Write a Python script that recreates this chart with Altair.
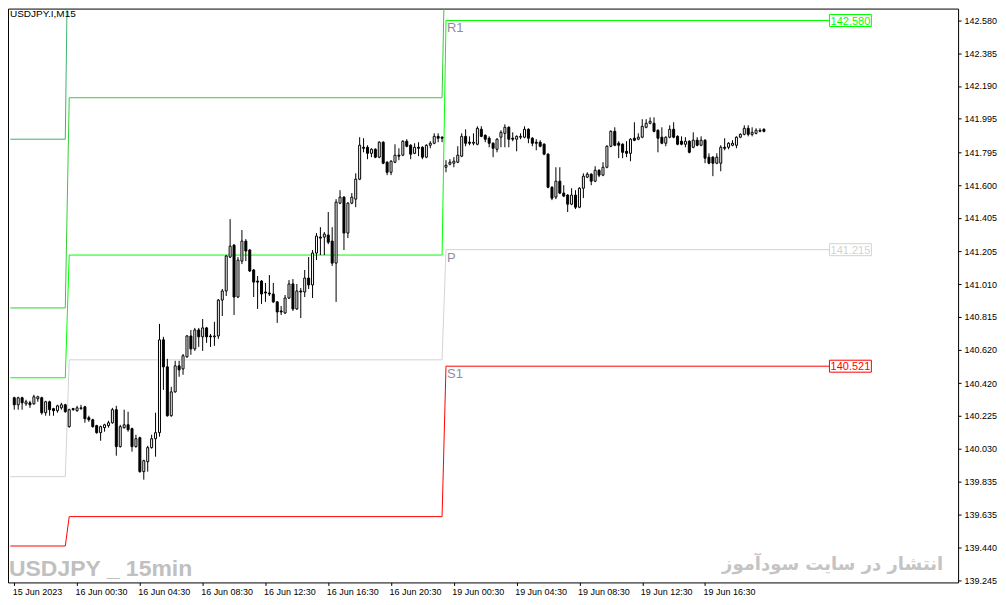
import json
import altair as alt
import pandas as pd

# ---------------- data ----------------
chart_title = "USDJPY.I,M15"
watermark_left = "USDJPY _ 15min"
watermark_right = "انتشار در سایت سودآموز"

x_tick_index = [0, 16, 32, 48, 64, 80, 96, 112, 128, 144, 160, 176]
x_tick_labels = ["15 Jun 2023", "16 Jun 00:30", "16 Jun 04:30", "16 Jun 08:30",
                 "16 Jun 12:30", "16 Jun 16:30", "16 Jun 20:30", "19 Jun 00:30",
                 "19 Jun 04:30", "19 Jun 08:30", "19 Jun 12:30", "19 Jun 16:30"]
y_tick_values = [142.580, 142.385, 142.190, 141.995, 141.795, 141.600, 141.405,
                 141.205, 141.010, 140.815, 140.620, 140.420, 140.225, 140.030,
                 139.835, 139.635, 139.440, 139.245]

opens = [140.333,140.291,140.333,140.297,140.303,140.297,140.327,140.333,140.244,140.309,
140.268,140.256,140.273,140.291,140.161,140.268,140.256,140.268,140.279,140.214,
140.202,140.167,140.125,140.155,140.167,140.184,140.262,140.042,140.155,140.172,
140.149,140.042,140.095,139.893,139.952,140.036,140.089,140.125,140.678,140.517,
140.226,140.368,140.523,140.505,140.577,140.701,140.624,140.737,140.696,140.749,
140.701,140.696,140.701,140.915,140.969,141.171,141.242,140.933,141.147,141.266,
141.213,141.094,141.028,141.028,140.963,140.957,140.951,140.904,140.850,140.838,
140.927,141.011,140.862,140.969,140.963,141.046,141.005,141.195,141.290,141.290,
141.302,141.266,141.135,141.492,141.528,141.314,141.492,141.516,141.635,141.825,
141.825,141.789,141.813,141.766,141.855,141.736,141.676,141.736,141.778,141.778,
141.861,141.837,141.789,141.825,141.825,141.766,141.837,141.849,141.890,141.885,
141.706,141.724,141.730,141.736,141.772,141.890,141.855,141.849,141.843,141.932,
141.896,141.879,141.849,141.813,141.885,141.908,141.944,141.879,141.873,141.885,
141.885,141.932,141.879,141.855,141.855,141.843,141.784,141.587,141.528,141.623,
141.552,141.540,141.486,141.540,141.468,141.581,141.647,141.665,141.623,141.688,
141.659,141.706,141.831,141.920,141.849,141.843,141.801,141.789,141.879,141.873,
141.885,141.944,141.968,141.968,141.926,141.885,141.849,141.885,141.932,141.890,
141.861,141.843,141.861,141.825,141.867,141.837,141.867,141.766,141.766,141.730,
141.730,141.825,141.825,141.837,141.837,141.885,141.902,141.938,141.902,141.908,
141.920,141.932]

highs = [140.339,140.339,140.339,140.321,140.315,140.351,140.345,140.339,140.315,140.315,
140.273,140.291,140.303,140.297,140.268,140.273,140.285,140.291,140.285,140.226,
140.208,140.172,140.167,140.178,140.196,140.273,140.285,140.172,140.262,140.250,
140.155,140.113,140.101,139.964,140.047,140.113,140.244,140.773,140.696,140.565,
140.398,140.553,140.553,140.594,140.707,140.737,140.749,140.749,140.802,140.755,
140.713,140.785,140.921,140.981,141.183,141.397,141.248,141.171,141.332,141.278,
141.219,141.100,141.058,141.034,141.017,141.064,141.017,140.909,140.880,140.945,
141.034,141.040,141.011,140.987,141.094,141.171,141.213,141.314,141.349,141.320,
141.439,141.349,141.516,141.569,141.534,141.498,141.552,141.670,141.885,141.879,
141.837,141.819,141.819,141.861,141.861,141.742,141.748,141.843,141.819,141.867,
141.873,141.843,141.849,141.855,141.831,141.843,141.861,141.908,141.908,141.890,
141.748,141.754,141.766,141.831,141.908,141.932,141.890,141.908,141.950,141.950,
141.902,141.890,141.855,141.879,141.926,141.962,141.950,141.914,141.896,141.908,
141.950,141.938,141.885,141.873,141.867,141.849,141.789,141.593,141.706,141.706,
141.599,141.546,141.581,141.569,141.587,141.670,141.676,141.670,141.712,141.694,
141.736,141.837,141.926,141.944,141.861,141.849,141.861,141.879,141.974,141.908,
141.992,141.992,142.003,142.003,141.932,141.944,141.890,141.956,141.974,141.896,
141.890,141.885,141.867,141.914,141.885,141.890,141.873,141.789,141.772,141.789,
141.837,141.879,141.855,141.867,141.890,141.908,141.956,141.956,141.944,141.938,
141.938,141.938]

lows = [140.262,140.262,140.262,140.285,140.273,140.291,140.309,140.232,140.226,140.226,
140.226,140.244,140.262,140.244,140.155,140.256,140.250,140.262,140.184,140.190,
140.155,140.119,140.077,140.131,140.155,140.178,139.988,140.036,140.149,140.131,
140.012,140.036,139.887,139.845,139.893,140.030,139.982,140.101,140.380,140.220,
140.220,140.363,140.458,140.470,140.571,140.589,140.612,140.636,140.612,140.660,
140.636,140.642,140.684,140.820,140.939,141.165,140.826,140.927,141.129,141.147,
141.082,140.933,140.862,140.892,140.904,140.939,140.898,140.779,140.826,140.832,
140.921,140.850,140.856,140.808,140.933,140.981,140.927,141.153,141.183,141.183,
141.248,141.118,140.904,141.486,141.213,141.284,141.486,141.468,141.629,141.795,
141.754,141.766,141.760,141.760,141.724,141.659,141.659,141.730,141.748,141.772,
141.825,141.754,141.784,141.772,141.754,141.760,141.819,141.843,141.855,141.855,
141.676,141.718,141.706,141.730,141.766,141.831,141.837,141.837,141.837,141.885,
141.855,141.825,141.766,141.795,141.825,141.825,141.825,141.861,141.801,141.873,
141.879,141.849,141.831,141.807,141.825,141.778,141.581,141.510,141.516,141.546,
141.528,141.439,141.480,141.457,141.462,141.522,141.641,141.599,141.617,141.647,
141.653,141.700,141.825,141.831,141.760,141.760,141.766,141.742,141.861,141.867,
141.879,141.938,141.962,141.914,141.795,141.843,141.831,141.879,141.879,141.837,
141.837,141.825,141.789,141.819,141.831,141.831,141.730,141.724,141.653,141.724,
141.682,141.807,141.813,141.831,141.819,141.879,141.896,141.890,141.890,141.902,
141.914,141.914]

closes = [140.291,140.333,140.303,140.309,140.291,140.339,140.339,140.244,140.309,140.262,
140.256,140.285,140.291,140.250,140.262,140.262,140.273,140.273,140.208,140.202,
140.161,140.125,140.161,140.172,140.184,140.262,140.042,140.161,140.172,140.143,
140.042,140.089,139.893,139.958,140.036,140.089,140.125,140.678,140.517,140.226,
140.368,140.523,140.499,140.583,140.701,140.624,140.737,140.696,140.749,140.696,
140.696,140.701,140.915,140.969,141.177,141.236,140.933,141.153,141.266,141.207,
141.088,141.022,141.022,140.951,140.957,140.951,140.904,140.844,140.844,140.927,
141.011,140.862,140.969,140.963,141.046,141.005,141.195,141.296,141.284,141.308,
141.260,141.135,141.498,141.528,141.314,141.492,141.528,141.635,141.837,141.819,
141.789,141.813,141.766,141.855,141.730,141.676,141.742,141.778,141.772,141.861,
141.831,141.784,141.825,141.819,141.766,141.837,141.849,141.890,141.879,141.879,
141.718,141.736,141.742,141.778,141.890,141.849,141.849,141.855,141.938,141.890,
141.873,141.849,141.819,141.873,141.914,141.944,141.873,141.873,141.890,141.890,
141.932,141.879,141.849,141.849,141.831,141.784,141.587,141.522,141.623,141.552,
141.534,141.486,141.540,141.468,141.581,141.653,141.665,141.623,141.688,141.659,
141.706,141.831,141.920,141.837,141.837,141.795,141.789,141.873,141.867,141.885,
141.950,141.968,141.980,141.920,141.879,141.849,141.885,141.932,141.885,141.843,
141.843,141.861,141.795,141.867,141.837,141.867,141.760,141.730,141.730,141.766,
141.825,141.819,141.849,141.849,141.885,141.902,141.938,141.902,141.914,141.926,
141.926,141.920]

# daily pivot levels (15 Jun, 16 Jun, 19 Jun); day spans in bar index
day_start = [-1, 14, 110]
day_end = [13, 109, 207.7]
r3_levels = [141.873, 143.675, 144.640]
r2_levels = [140.868, 142.120, 143.274]
r1_levels = [140.452, 141.183, 142.580]
p_levels = [139.863, 140.559, 141.215]
s1_levels = [139.450, 139.625, 140.521]

level_names = ["R3", "R2", "R1", "P", "S1"]
level_colors = ["#3CB371", "#32CD32", "#00FF00", "#D3D3D3", "#FF0000"]
label_text_color = "#8E8E9E"

# ---------------- tables ----------------
candles = pd.DataFrame({
    "i": list(range(len(opens))),
    "open": opens, "high": highs, "low": lows, "close": closes,
})

rows = []
for name, lv in zip(level_names, [r3_levels, r2_levels, r1_levels, p_levels, s1_levels]):
    for d in range(3):
        rows.append({"name": name, "x": day_start[d], "y": lv[d], "o": 2 * d})
        rows.append({"name": name, "x": day_end[d], "y": lv[d], "o": 2 * d + 1})
pivots = pd.DataFrame(rows)

last = pd.DataFrame({
    "name": ["R1", "P", "S1"],
    "level": [r1_levels[2], p_levels[2], s1_levels[2]],
    "start": [day_start[2]] * 3,
    "end": [day_end[2]] * 3,
})
last["txt"] = last["level"].map(lambda v: f"{v:.3f}")

one = pd.DataFrame({"a": [0]})

xscale = alt.Scale(domain=[-0.325, 239.2], nice=False, zero=False)
yscale = alt.Scale(domain=[139.233, 142.651], nice=False, zero=False)
cscale = alt.Scale(domain=level_names, range=level_colors)

label_expr = json.dumps(x_tick_labels) + "[round(datum.value / 16)]"

x_axis = alt.Axis(values=x_tick_index, labelExpr=label_expr, orient="bottom",
                  labelAlign="left", labelBaseline="top", labelPadding=2,
                  labelOffset=-2,
                  tickSize=3, domain=False, grid=False, title=None,
                  labelOverlap=False, labelBound=False, labelFlush=False)
y_axis = alt.Axis(values=y_tick_values, format=".3f", orient="right",
                  labelAlign="left", labelBaseline="middle",
                  tickSize=3, labelPadding=3, domain=False, grid=False,
                  title=None, labelOverlap=False, labelBound=False, labelFlush=False)


def X(field):
    return alt.X(field, type="quantitative", scale=xscale, axis=x_axis)


def Y(field):
    return alt.Y(field, type="quantitative", scale=yscale, axis=y_axis)


# ---------------- layers ----------------
lines = alt.Chart(pivots).mark_line(strokeWidth=1, clip=True).encode(
    x=X("x"), y=Y("y"),
    color=alt.Color("name:N", scale=cscale, legend=None),
    detail="name:N",
    order="o:Q",
)

wicks = alt.Chart(candles).mark_rule(color="black", strokeWidth=1, clip=True).encode(
    x=X("i"), y=Y("low"), y2="high:Q",
)

bodies = alt.Chart(candles).transform_calculate(
    dir="datum.close >= datum.open ? 'bull' : 'bear'"
).mark_bar(size=2, stroke="black", strokeWidth=1, clip=True).encode(
    x=X("i"), y=Y("open"), y2="close:Q",
    fill=alt.Fill("dir:N", scale=alt.Scale(domain=["bull", "bear"], range=["white", "black"]),
                  legend=None),
)

tags = alt.Chart(last).mark_text(align="left", baseline="top", dx=1, dy=2, fontSize=13,
                                 font="Liberation Sans", color=label_text_color).encode(
    x=X("start"), y=Y("level"), text="name:N",
)

boxes = alt.Chart(last).mark_rect(fill="white", strokeWidth=1, x2Offset=42,
                                  yOffset=-6, y2Offset=6).encode(
    x=X("end"), x2="end:Q", y=Y("level"), y2="level:Q",
    stroke=alt.Stroke("name:N", scale=cscale, legend=None),
)

box_text = alt.Chart(last).mark_text(align="center", baseline="middle", dx=21, dy=1,
                                     fontSize=11, font="Liberation Sans").encode(
    x=X("end"), y=Y("level"), text="txt:N",
    color=alt.Color("name:N", scale=cscale, legend=None),
)

title_txt = alt.Chart(one).mark_text(align="left", baseline="top", fontSize=10,
                                     font="Liberation Sans", color="black").encode(
    x=alt.value(2), y=alt.value(0), text=alt.value(chart_title))

wm_left = alt.Chart(one).mark_text(align="left", baseline="alphabetic", fontSize=23,
                                   fontWeight="bold", font="Liberation Sans",
                                   color="#C0C0C0").encode(
    x=alt.value(1), y=alt.value(569), text=alt.value(watermark_left))

wm_right = alt.Chart(one).mark_text(align="right", baseline="alphabetic", fontSize=18,
                                    fontWeight="bold", font="DejaVu Sans",
                                    color="#C4C4C4").encode(
    x=alt.value(937), y=alt.value(563), text=alt.value(watermark_right))

chart = alt.layer(
    lines, wicks, bodies, tags, boxes, box_text, title_txt, wm_left, wm_right
).properties(
    width=952, height=575,
    autosize=alt.AutoSizeParams(type="none"),
    padding={"left": 0, "top": 0, "right": 40, "bottom": 14},
    background="white",
).configure_view(
    stroke="black", strokeWidth=1
).configure_axis(
    labelFont="Liberation Sans", labelFontSize=9, labelColor="black",
    tickColor="black", tickWidth=1,
)

chart.save("out.html", embed_options={"renderer": "svg", "actions": False})
